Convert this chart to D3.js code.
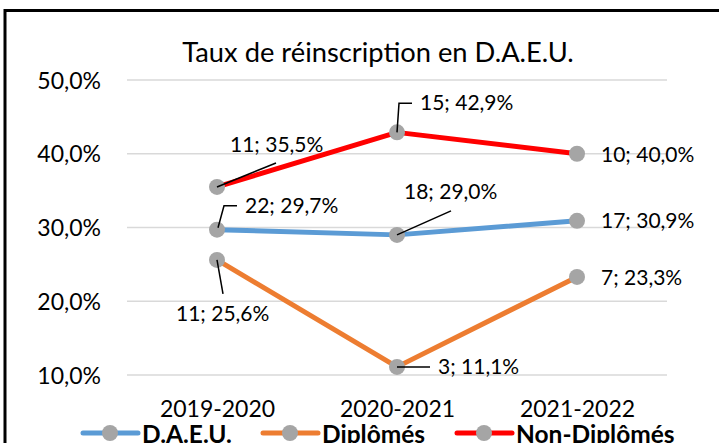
<!DOCTYPE html>
<html><head><meta charset="utf-8">
<script src="https://cdn.jsdelivr.net/npm/d3@7"></script>
<style>body{margin:0;background:#fff}svg{display:block}text{font-family:Lato,"Open Sans",sans-serif}</style>
</head><body>
<svg id="c" width="719" height="443"></svg>
<script>
const categories = ["2019-2020", "2020-2021", "2021-2022"];
const seriesNames = ["D.A.E.U.", "Diplômés", "Non-Diplômés"];
const daeuValues = [29.7, 29.0, 30.9];
const daeuCounts = [22, 18, 17];
const diplomesValues = [25.6, 11.1, 23.3];
const diplomesCounts = [11, 3, 7];
const nonDiplomesValues = [35.5, 42.9, 40.0];
const nonDiplomesCounts = [11, 15, 10];
const yTicks = [10, 20, 30, 40, 50];
const title = "Taux de réinscription en D.A.E.U.";

const colors = ["#5B9BD5", "#ED7D31", "#FF0000"];
const series = [
  {name: seriesNames[0], values: daeuValues, counts: daeuCounts, color: colors[0],
   labels: [{dx:28,dy:-17,leader:[[1,-2],[7,-24],[20,-24]]},{dx:7,dy:-36,leader:[[0,0],[54,-24]]},{dx:24,dy:7}]},
  {name: seriesNames[1], values: diplomesValues, counts: diplomesCounts, color: colors[1],
   labels: [{dx:-41,dy:61,leader:[[0,0],[6,34]]},{dx:41,dy:7,leader:[[0,0],[33,0]]},{dx:24,dy:8}]},
  {name: seriesNames[2], values: nonDiplomesValues, counts: nonDiplomesCounts, color: colors[2],
   labels: [{dx:13,dy:-35,leader:[[0,0],[59,-24]]},{dx:23,dy:-22,leader:[[0,0],[2,-29],[15,-29]]},{dx:24,dy:8}]}
];

const svg = d3.select("#c");
const fmt = v => d3.format(".1f")(v).replace(".", ",") + "%";

// border
svg.append("path").attr("d","M5,460 V10.5 H730").attr("fill","none").attr("stroke","#000").attr("stroke-width",3);

const x = d3.scalePoint().domain(categories).range([217, 577]).padding(0);
const y = d3.scaleLinear().domain([10, 50]).range([375, 80]);

// gridlines
svg.append("g").selectAll("line").data(yTicks).join("line")
  .attr("x1",127).attr("x2",667).attr("y1",d=>y(d)).attr("y2",d=>y(d))
  .attr("stroke","#D9D9D9").attr("stroke-width",1.5);

// y axis
const yAxis = d3.axisLeft(y).tickValues(yTicks).tickFormat(fmt).tickSize(0).tickPadding(0);
const gy = svg.append("g").attr("transform","translate(101,0)").call(yAxis);
gy.select(".domain").remove();
gy.selectAll("text").attr("font-size",23).attr("fill","#000").attr("dy","0.35em").style("font-family","Lato");

// x axis
const xAxis = d3.axisBottom(x).tickSize(0).tickPadding(0);
const gx = svg.append("g").attr("transform","translate(0,417)").call(xAxis);
gx.select(".domain").remove();
gx.selectAll("text").attr("font-size",23).attr("fill","#000").attr("dy",0).style("font-family","Lato");

// title
svg.append("text").attr("x",378).attr("y",62).attr("text-anchor","middle")
  .attr("font-size",27.3).attr("fill","#000").text(title);

const line = d3.line().x((d,i)=>x(categories[i])).y(d=>y(d));
series.forEach(s=>{
  svg.append("path").datum(s.values).attr("d",line).attr("fill","none")
    .attr("stroke",s.color).attr("stroke-width",5).attr("stroke-linejoin","round");
});
series.forEach(s=>{
  svg.append("g").selectAll("circle").data(s.values).join("circle")
    .attr("cx",(d,i)=>x(categories[i])).attr("cy",d=>y(d)).attr("r",8).attr("fill","#A5A5A5");
});
series.forEach(s=>{
  s.values.forEach((v,i)=>{
    const px = x(categories[i]), py = y(v), L = s.labels[i];
    if (L.leader) {
      svg.append("path").attr("d", d3.line()(L.leader.map(p=>[px+p[0],py+p[1]])))
        .attr("fill","none").attr("stroke","#000").attr("stroke-width",1.5);
    }
    svg.append("text").attr("x",px+L.dx).attr("y",py+L.dy).attr("font-size",21).attr("fill","#000")
      .text(s.counts[i] + "; " + fmt(v));
  });
});

// legend
const legendX = [83, 263, 457];
const lg = svg.append("g");
series.forEach((s,i)=>{
  const lx = legendX[i], ly = 433;
  lg.append("line").attr("x1",lx).attr("x2",lx+55).attr("y1",ly).attr("y2",ly)
    .attr("stroke",s.color).attr("stroke-width",5).attr("stroke-linecap","round");
  lg.append("circle").attr("cx",lx+27).attr("cy",ly).attr("r",8).attr("fill","#A5A5A5");
  lg.append("text").attr("x",lx+59).attr("y",ly+10).attr("font-size",24.5).attr("font-weight","bold")
    .attr("fill","#000").text(s.name);
});
</script>
</body></html>
